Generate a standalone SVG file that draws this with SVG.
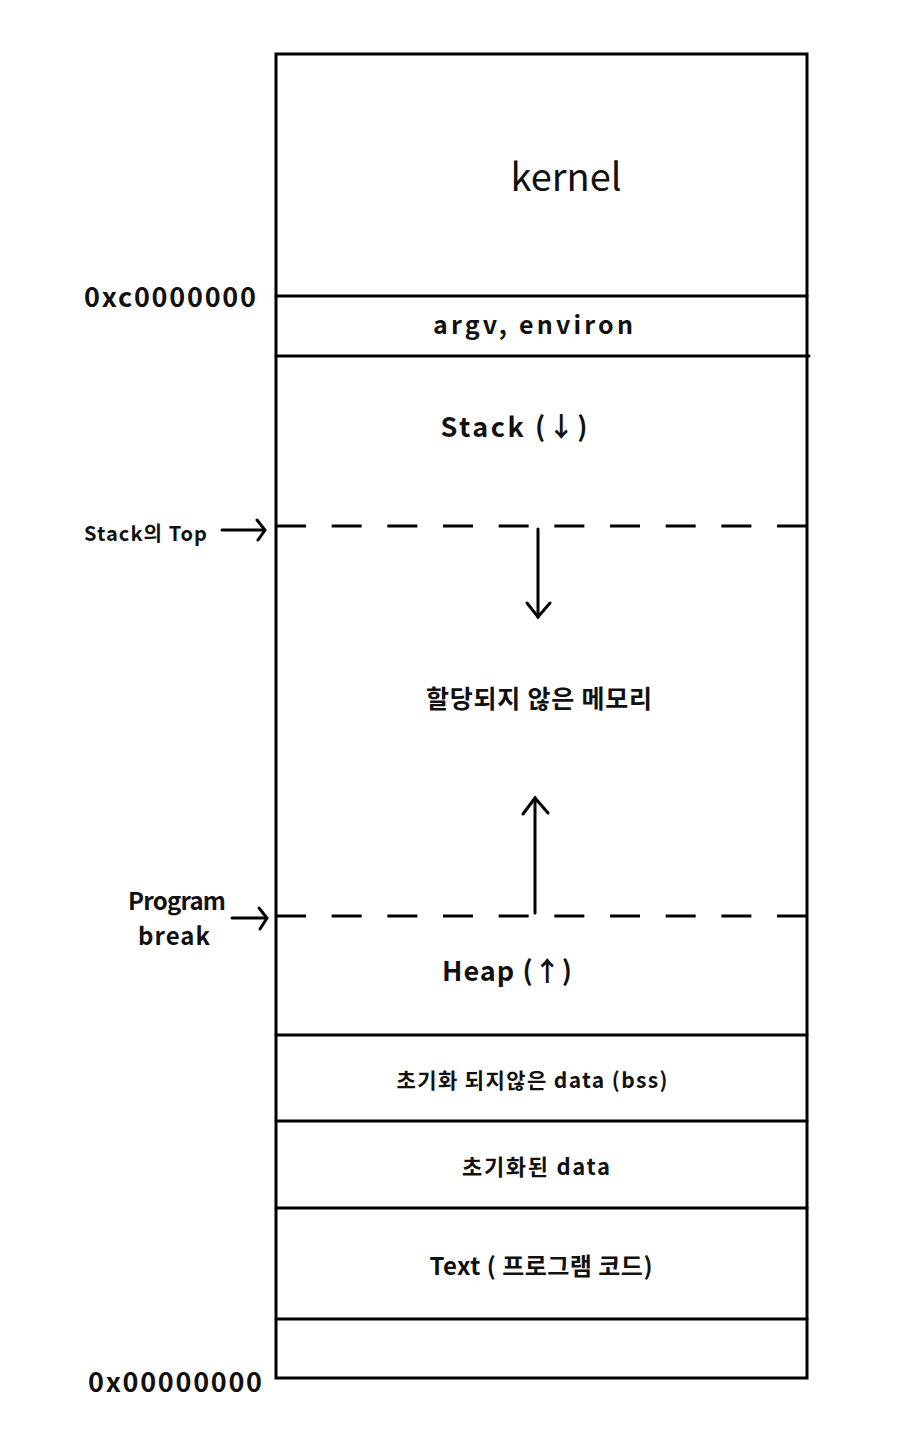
<svg xmlns="http://www.w3.org/2000/svg" width="922" height="1440" viewBox="0 0 922 1440">
<defs>
<style>
.ln{stroke:#000;stroke-width:3;fill:none;stroke-linecap:round}
.ds{stroke:#000;stroke-width:3;fill:none;stroke-dasharray:30 25.67}
.t{font-family:"Noto Sans CJK KR","Noto Sans",sans-serif;font-weight:700;fill:#111;text-anchor:middle}
.l{font-family:"Noto Sans CJK KR","Noto Sans",sans-serif;font-weight:700;fill:#111;text-anchor:start}
</style>
</defs>
<rect width="922" height="1440" fill="#fff"/>
<g id="memory">
<rect x="276" y="54" width="531" height="1324" class="ln"/>
</g>
<g id="kernel"><text class="t" x="566" y="191" font-size="38" style="font-weight:400">kernel</text></g>
<g id="argv"><line x1="276" y1="296" x2="807" y2="296" class="ln"/><text class="t" x="533" y="334" font-size="25" textLength="200">argv, environ</text></g>
<g id="stack"><line x1="276" y1="356" x2="809" y2="356" class="ln"/><text class="t" x="514" y="437" font-size="27" textLength="147">Stack (↓)</text></g>
<g id="unalloc"><text class="t" x="539" y="708" font-size="25" textLength="226">할당되지 않은 메모리</text></g>
<g id="heap"><text class="t" x="507" y="981" font-size="27" textLength="130">Heap (↑)</text></g>
<g id="bss"><line x1="276" y1="1035" x2="807" y2="1035" class="ln"/><text class="t" x="532" y="1088" font-size="21" textLength="271">초기화 되지않은 data (bss)</text></g>
<g id="data"><line x1="276" y1="1121" x2="807" y2="1121" class="ln"/><text class="t" x="536" y="1175" font-size="22" textLength="148">초기화된 data</text></g>
<g id="text"><line x1="276" y1="1208" x2="807" y2="1208" class="ln"/><text class="t" x="541" y="1275" font-size="24" textLength="223">Text ( 프로그램 코드)</text></g>
<g id="bottom"><line x1="276" y1="1319" x2="807" y2="1319" class="ln"/></g>
<g id="labels">
<text class="l" x="84" y="307" font-size="27" textLength="172">0xc0000000</text>
<text class="l" x="88" y="1392" font-size="27" textLength="174">0x00000000</text>
<text class="l" x="84" y="541" font-size="20" textLength="123">Stack의 Top</text>
<text class="l" x="128" y="910" font-size="24" textLength="98">Program</text>
<text class="l" x="138" y="945" font-size="24" textLength="72">break</text>
</g>
<g id="connectors">
<line x1="276" y1="526" x2="807" y2="526" class="ds"/>
<line x1="276" y1="916" x2="807" y2="916" class="ds"/>
<line x1="538" y1="529" x2="538" y2="617" class="ln"/>
<polyline points="527,603 538,617 550,603" class="ln"/>
<line x1="535" y1="913" x2="535" y2="798" class="ln"/>
<polyline points="523,814 535,798 548,813" class="ln"/>
<line x1="222" y1="530" x2="264" y2="530" class="ln"/>
<polyline points="257,520 265,530 258,540" class="ln"/>
<line x1="232" y1="918" x2="266" y2="918" class="ln"/>
<polyline points="259,908 267,918 260,929" class="ln"/>
</g>
</svg>
